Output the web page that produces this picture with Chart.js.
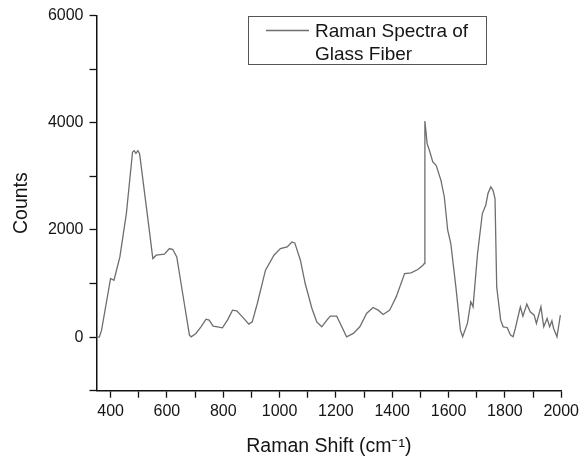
<!DOCTYPE html>
<html>
<head>
<meta charset="utf-8">
<script src="https://cdn.jsdelivr.net/npm/chart.js@4"></script>
<style>
  html, body { margin: 0; padding: 0; background: #fff; }
  #wrap { width: 583px; height: 458px; }
</style>
</head>
<body>
<div id="wrap"><canvas id="raman" width="583" height="458"></canvas></div>
<script>
// Raman shift (cm-1) and counts
const shiftX = [350, 360, 368, 400, 412, 433, 456, 478, 484, 490, 497, 503, 521, 536, 550, 562, 591, 609, 621, 635,
  656, 680, 686, 703, 721, 739, 750, 764, 780, 797, 815, 833, 848, 868, 891, 903, 921, 950, 980, 1003,
  1027, 1044, 1054, 1074, 1091, 1115, 1132, 1150, 1168, 1180, 1203, 1221, 1238, 1262, 1285, 1309, 1332, 1350, 1368, 1391,
  1414, 1444, 1467, 1491, 1509, 1514, 1516, 1524, 1532, 1544, 1556, 1573, 1585, 1597, 1608, 1626, 1642, 1650, 1667, 1679,
  1687, 1703, 1720, 1732, 1740, 1750, 1758, 1765, 1771, 1785, 1794, 1808, 1820, 1829, 1837, 1855, 1864, 1878, 1890, 1904,
  1912, 1928, 1938, 1950, 1959, 1967, 1973, 1985, 1997];
const counts = [0, 0, 130, 1094, 1062, 1497, 2306, 3454, 3480, 3430, 3480, 3424, 2679, 2056, 1467, 1529, 1547, 1653, 1634, 1497,
  814, 37, 6, 69, 192, 335, 317, 205, 192, 173, 317, 503, 490, 378, 242, 285, 628, 1249, 1528, 1653,
  1683, 1776, 1758, 1435, 1000, 535, 285, 192, 317, 391, 391, 192, 6, 69, 192, 442, 553, 503, 423, 503,
  751, 1187, 1199, 1262, 1342, 1374, 4032, 3610, 3486, 3268, 3206, 2926, 2615, 1995, 1747, 938, 130, 6, 255, 658,
  565, 1560, 2306, 2460, 2679, 2802, 2740, 2585, 938, 317, 192, 180, 37, 6, 161, 565, 391, 615, 472, 410,
  255, 565, 192, 348, 192, 304, 161, 6, 410];

const seriesName = ['Raman Spectra of', 'Glass Fiber'];
const xTitle = 'Raman Shift (cm\u207B\u00B9)';
const yTitle = 'Counts';

const lineColor = '#6e6e6e';
const textColor = '#151515';
const fontFam = '"Liberation Sans", Arial, sans-serif';

// legend box drawn by hand (Chart.js legend can't do the boxed 2-line label)
const boxLegend = {
  id: 'boxLegend',
  afterDraw(chart) {
    const c = chart.ctx;
    c.save();
    c.strokeStyle = '#555';
    c.lineWidth = 1;
    c.strokeRect(248.5, 16.5, 238, 48);
    c.strokeStyle = lineColor;
    c.lineWidth = 1.3;
    c.beginPath();
    c.moveTo(266, 30.5);
    c.lineTo(309, 30.5);
    c.stroke();
    c.fillStyle = textColor;
    c.font = '19px ' + fontFam;
    c.textBaseline = 'alphabetic';
    c.fillText(seriesName[0], 315, 37);
    c.fillText(seriesName[1], 315, 60);
    c.restore();
  }
};

const pts = shiftX.map((x, i) => ({ x: x, y: counts[i] }));

new Chart(document.getElementById('raman'), {
  type: 'line',
  data: {
    datasets: [{
      label: seriesName.join(' '),
      data: pts,
      borderColor: lineColor,
      borderWidth: 1.3,
      pointRadius: 0,
      tension: 0,
      fill: false
    }]
  },
  options: {
    responsive: false,
    animation: false,
    layout: { padding: { left: 0, right: 18.7, top: 15, bottom: 0 } },
    plugins: { legend: { display: false }, tooltip: { enabled: false } },
    scales: {
      x: {
        type: 'linear',
        min: 350, max: 2000,
        afterFit: s => { s.height = 67.3; },
        border: { color: '#111', width: 1.5 },
        grid: { drawOnChartArea: false, drawTicks: true, tickLength: 7, tickColor: '#111', tickWidth: 1.3 },
        ticks: {
          stepSize: 100, includeBounds: false, autoSkip: false, maxRotation: 0,
          padding: 4, color: textColor, font: { family: fontFam, size: 16 },
          callback: v => (v % 200 === 0 ? String(v) : '')
        },
        title: { display: true, text: xTitle, color: textColor, font: { family: fontFam, size: 19.5 }, padding: { top: 4, bottom: 0 } }
      },
      y: {
        min: -1000, max: 6000,
        afterFit: s => { s.width = 96.5; },
        border: { color: '#111', width: 1.5 },
        grid: { drawOnChartArea: false, drawTicks: true, tickLength: 7, tickColor: '#111', tickWidth: 1.3 },
        ticks: {
          stepSize: 1000, autoSkip: false, padding: 6, color: textColor, font: { family: fontFam, size: 16 },
          callback: v => (v % 2000 === 0 && v >= 0 ? String(v) : '')
        },
        title: { display: true, text: yTitle, color: textColor, font: { family: fontFam, size: 19.5 }, padding: { top: 10, bottom: 0 } }
      }
    }
  },
  plugins: [boxLegend]
});
</script>
</body>
</html>
